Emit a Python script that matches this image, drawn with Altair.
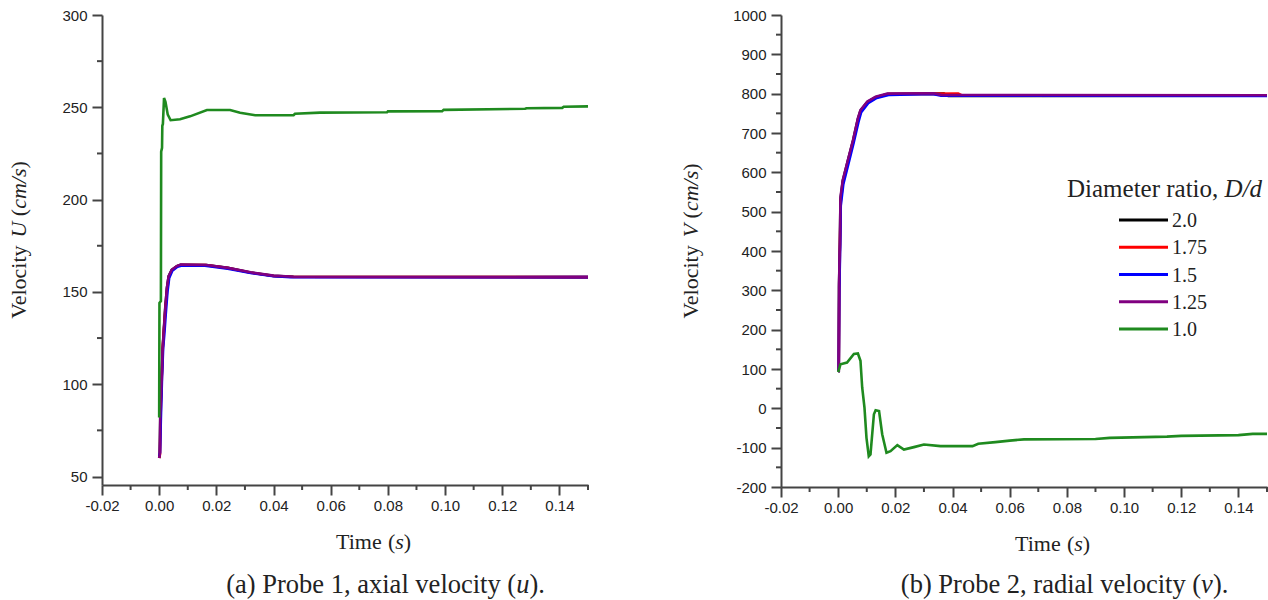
import altair as alt
import pandas as pd

# ---- series metadata -------------------------------------------------------
ratios = ["2.0", "1.75", "1.5", "1.25", "1.0"]
colors = ["#000000", "#ff0000", "#0000ff", "#800080", "#1f8a1f"]

# ---- Probe 1, axial velocity u (cm/s) vs time (s) -------------------------
u_t_20 = [0, 0.0002, 0.0004, 0.0008, 0.0012, 0.0016, 0.0021, 0.0027, 0.0033, 0.0044, 0.0062, 0.0075, 0.0165, 0.024, 0.032, 0.040, 0.047, 0.15]
u_20 = [60, 62, 85, 101, 119, 129, 141, 152, 158.4, 162, 164, 164.7, 164.6, 163, 160.5, 158.7, 158.2, 158]

u_t_175 = [0, 0.0003, 0.0005, 0.0009, 0.0013, 0.0017, 0.0022, 0.0028, 0.0034, 0.0045, 0.0063, 0.0078, 0.0162, 0.024, 0.032, 0.040, 0.047, 0.15]
u_175 = [60, 62, 83, 102, 121, 130, 141, 151, 158, 161.8, 163.9, 164.6, 164.5, 162.9, 160.4, 158.6, 158.1, 158]

u_t_15 = [0, 0.0003, 0.0006, 0.0010, 0.0014, 0.0018, 0.0023, 0.0029, 0.0035, 0.0046, 0.0064, 0.0080, 0.0160, 0.024, 0.032, 0.040, 0.046, 0.15]
u_15 = [61, 63, 82, 104, 120, 127, 138, 150, 157.5, 161.5, 163.6, 164.3, 164.2, 162.6, 160.2, 158.5, 157.9, 158]

u_t_125 = [0, 0.0002, 0.0004, 0.0008, 0.0012, 0.0016, 0.0021, 0.0027, 0.0033, 0.0044, 0.0062, 0.0075, 0.0165, 0.024, 0.032, 0.040, 0.047, 0.15]
u_125 = [60, 62, 84, 100, 118, 128, 140, 152, 158.5, 162, 164, 164.8, 164.6, 163, 160.6, 158.8, 158.2, 158]

u_t_10 = [0, 0.0001, 0.0006, 0.0007, 0.0010, 0.0011, 0.0013, 0.0017, 0.0022, 0.0030, 0.0040, 0.0073, 0.0108, 0.0167,
          0.0248, 0.0283, 0.0336, 0.0470, 0.0475, 0.0563, 0.0797, 0.0800, 0.0990, 0.0995, 0.1280, 0.1285, 0.1410, 0.1415, 0.15]
u_10 = [82, 144, 145, 226, 228, 240, 241, 255, 253, 246, 243, 243.5, 245.1, 248.5,
        248.5, 247, 245.7, 245.7, 246.5, 247.1, 247.3, 247.8, 247.9, 248.6, 249.2, 249.5, 249.7, 250.3, 250.5]

# ---- Probe 2, radial velocity v (cm/s) vs time (s) ------------------------
v_t_20 = [0, 0.0002, 0.0003, 0.0006, 0.0008, 0.0016, 0.0034, 0.0052, 0.0069, 0.0078, 0.0102, 0.0131, 0.0172, 0.0370, 0.0385, 0.15]
v_20 = [95, 95, 310, 418, 530, 578, 630, 681, 736, 757, 779, 791, 799, 800, 794, 795]

v_t_175 = [0, 0.0002, 0.0004, 0.0006, 0.0009, 0.0017, 0.0035, 0.0053, 0.0070, 0.0079, 0.0104, 0.0133, 0.0175, 0.0420, 0.0435, 0.15]
v_175 = [95, 95, 290, 405, 525, 575, 627, 679, 733, 755, 778, 790, 799, 800, 795, 795]

v_t_15 = [0, 0.0002, 0.0004, 0.0007, 0.0009, 0.0018, 0.0036, 0.0054, 0.0071, 0.0080, 0.0105, 0.0135, 0.0180, 0.0330, 0.0360, 0.15]
v_15 = [95, 95, 300, 410, 515, 570, 622, 675, 728, 752, 776, 789, 797, 799, 795, 794]

v_t_125 = [0, 0.0002, 0.0003, 0.0006, 0.0008, 0.0016, 0.0034, 0.0052, 0.0069, 0.0078, 0.0102, 0.0131, 0.0172, 0.0334, 0.0360, 0.15]
v_125 = [95, 95, 316, 420, 537, 580, 631, 682, 737, 758, 780, 792, 800, 801, 797, 796]

v_t_10 = [0, 0.0008, 0.0031, 0.0055, 0.0069, 0.0078, 0.0084, 0.0092, 0.0099, 0.0107, 0.0113, 0.0125, 0.0131, 0.0143,
          0.0154, 0.0169, 0.0183, 0.0207, 0.0230, 0.0265, 0.0300, 0.0358, 0.0470, 0.0490, 0.0550, 0.0600, 0.0650,
          0.0900, 0.0950, 0.1150, 0.1200, 0.1400, 0.1450, 0.15]
v_10 = [92, 112, 116.5, 138, 139.5, 121, 53, 2, -75, -122, -117, -15, -5, -7,
        -66, -113, -109, -93.5, -105, -98.6, -92, -96, -96, -90, -86, -82, -79,
        -78, -75, -72, -70, -68, -65, -65]

# ---- axis ticks --------------------------------------------------------------
t_major = [-0.02, 0.0, 0.02, 0.04, 0.06, 0.08, 0.10, 0.12, 0.14]
t_minor = [-0.01, 0.01, 0.03, 0.05, 0.07, 0.09, 0.11, 0.13, 0.15]
u_major = [50, 100, 150, 200, 250, 300]
u_minor = [75, 125, 175, 225, 275]
v_major = list(range(-200, 1001, 100))
v_minor = list(range(-150, 1000, 100))

# ---- styling -----------------------------------------------------------------
SERIF = "Liberation Serif"
SANS = "Liberation Sans"
INK = "#222222"
AXIS_INK = "#444444"
PANEL_W = 486
CAPTION_Y = 570   # caption centre, measured from each panel's top edge

# Times-style advance widths (em) used to lay out mixed roman/italic text runs
REG = {" ": .25, "(": .333, ")": .333, ".": .25, ",": .25, "/": .278,
       "a": .444, "b": .5, "c": .444, "d": .5, "e": .444, "i": .278, "l": .278,
       "m": .778, "o": .5, "r": .333, "s": .389, "t": .278, "u": .5, "v": .5,
       "x": .5, "y": .5, "P": .556, "T": .611, "V": .722, "D": .722, "U": .722}
ITA = {"U": .722, "V": .611, "c": .444, "m": .722, "/": .278, "s": .389,
       "u": .5, "v": .444, "D": .722, "d": .5}

one = pd.DataFrame({"k": [0]})


def run_width(text, italic, size):
    table = ITA if italic else REG
    return sum(table.get(ch, REG.get(ch, 0.5)) for ch in text) * size


def rich_text(pieces, cx, cy, size, rotate=False):
    """Centre a sequence of (text, italic) runs at (cx, cy) in plot pixels."""
    total = sum(run_width(t, it, size) for t, it in pieces)
    pos = -total / 2
    out = []
    for text, italic in pieces:
        # leading blanks are collapsed by SVG, so advance past them here
        body = text.lstrip(" ")
        pos += (len(text) - len(body)) * REG[" "] * size
        if rotate:
            x, y = cx, cy - pos
        else:
            x, y = cx + pos, cy
        out.append(
            alt.Chart(one).mark_text(
                text=body, font=SERIF, fontSize=size, color=INK,
                fontStyle="italic" if italic else "normal",
                align="left", baseline="middle", angle=270 if rotate else 0,
            ).encode(x=alt.value(x), y=alt.value(y))
        )
        pos += run_width(body, italic, size)
    return out


def series_frame(t, v):
    return pd.DataFrame({"t": t, "v": v})


def panel(series, y_domain, y_major, y_minor, height, y_label, title_x, caption):
    x_enc = alt.X(
        "t:Q",
        scale=alt.Scale(domain=[-0.02, 0.15], nice=False, zero=False),
        axis=alt.Axis(values=t_major, title=None, grid=False,
                      labelExpr="replace(format(datum.value, '.2f'), '\u2212', '-')"),
    )
    y_scale = alt.Scale(domain=y_domain, nice=False, zero=False)
    y_axis = alt.Axis(values=y_major, title=None, grid=False,
                      labelExpr="replace(format(datum.value, 'd'), '\u2212', '-')")

    layers = []
    for (t, v), color in zip(series, colors):
        layers.append(
            alt.Chart(series_frame(t, v)).mark_line(
                color=color, strokeWidth=2.6, clip=True
            ).encode(x=x_enc, y=alt.Y("v:Q", scale=y_scale, axis=y_axis))
        )

    # minor ticks on both axes
    layers.append(
        alt.Chart(pd.DataFrame({"v": y_minor})).mark_rule(
            color=AXIS_INK, strokeWidth=2
        ).encode(y=alt.Y("v:Q", scale=y_scale, axis=y_axis),
                 x=alt.value(-5), x2=alt.value(0))
    )
    layers.append(
        alt.Chart(pd.DataFrame({"t": t_minor})).mark_rule(
            color=AXIS_INK, strokeWidth=2
        ).encode(x=x_enc, y=alt.value(height), y2=alt.value(height + 5))
    )

    # x centre of the 0 .. 0.15 span, where the axis title sits
    x_mid = PANEL_W * (0.075 + 0.02) / 0.17

    layers += rich_text([("Time ", False), ("(", False), ("s", True), (")", False)],
                        x_mid, height + 57, 22)
    layers += rich_text(y_label, title_x, height / 2 - 10, 22, rotate=True)
    layers += rich_text(caption, x_mid + 12, CAPTION_Y, 26.5)
    return layers


left_series = [(u_t_20, u_20), (u_t_175, u_175), (u_t_15, u_15), (u_t_125, u_125), (u_t_10, u_10)]
right_series = [(v_t_20, v_20), (v_t_175, v_175), (v_t_15, v_15), (v_t_125, v_125), (v_t_10, v_10)]

left_layers = panel(
    left_series, [45.4, 300], u_major, u_minor, 470,
    [("Velocity ", False), ("U", True), (" (", False), ("cm/s", True), (")", False)], -83,
    [("(a) Probe 1, axial velocity (", False), ("u", True), (").", False)],
)

right_layers = panel(
    right_series, [-200, 1000], v_major, v_minor, 472,
    [("Velocity ", False), ("V", True), (" (", False), ("cm/s", True), (")", False)], -90,
    [("(b) Probe 2, radial velocity (", False), ("v", True), (").", False)],
)

# legend drawn inside the right panel
leg_x0, leg_x1, leg_y0, leg_step = 338, 387, 205, 27.25
right_layers += [
    alt.Chart(one).mark_text(
        text="Diameter ratio,", font=SERIF, fontSize=25, color=INK,
        align="left", baseline="middle",
    ).encode(x=alt.value(286), y=alt.value(174)),
    alt.Chart(one).mark_text(
        text="D/d", font=SERIF, fontSize=25, color=INK, fontStyle="italic",
        align="left", baseline="middle",
    ).encode(x=alt.value(286 + run_width("Diameter ratio, ", False, 25)), y=alt.value(174)),
]
for i, (label, color) in enumerate(zip(ratios, colors)):
    yy = leg_y0 + i * leg_step
    right_layers.append(
        alt.Chart(one).mark_rule(color=color, strokeWidth=3).encode(
            x=alt.value(leg_x0), x2=alt.value(leg_x1), y=alt.value(yy))
    )
    right_layers.append(
        alt.Chart(one).mark_text(
            text=label, font=SERIF, fontSize=20, color=INK,
            align="left", baseline="middle",
        ).encode(x=alt.value(leg_x1 + 4), y=alt.value(yy + 1))
    )

left = alt.layer(*left_layers).properties(width=PANEL_W, height=470)
right = alt.layer(*right_layers).properties(width=PANEL_W, height=472)

chart = (
    alt.hconcat(left, right, spacing=90)
    .properties(padding={"left": 7, "top": 8, "right": 0, "bottom": 0})
    .configure_view(stroke=None)
    .configure_axis(
        domainColor=AXIS_INK, domainWidth=2,
        tickColor=AXIS_INK, tickWidth=2, tickSize=10,
        labelFont=SANS, labelFontSize=15, labelColor=INK,
        labelPadding=5, labelFlush=False, labelOverlap=False,
    )
    .configure_axisX(labelPadding=3)
)

chart.save("out.html", embed_options={"renderer": "svg", "actions": False})
